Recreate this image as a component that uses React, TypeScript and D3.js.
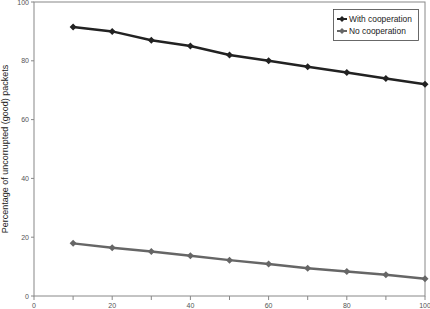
import React from "react";
import * as d3 from "d3";

const xValues = [10, 20, 30, 40, 50, 60, 70, 80, 90, 100];
const withCoop = [91.5, 90, 87, 85, 82, 80, 78, 76, 74, 72];
const noCoop = [17.9, 16.4, 15.1, 13.7, 12.2, 10.9, 9.4, 8.3, 7.2, 5.9];
const xTicks = [0, 20, 40, 60, 80, 100];
const xMinor = [10, 30, 50, 70, 90];
const yTicks = [0, 20, 40, 60, 80, 100];
const seriesNames = ["With cooperation", "No cooperation"];

export default function App() {
  const W = 430, H = 309;
  const x = d3.scaleLinear().domain([0, 100]).range([34, 425]);
  const y = d3.scaleLinear().domain([0, 100]).range([296, 2]);
  const line = d3.line<number>().x((_, i) => x(xValues[i])).y((d) => y(d));
  const series = [
    { name: seriesNames[0], data: withCoop, color: "#222", width: 2.5 },
    { name: seriesNames[1], data: noCoop, color: "#666", width: 2.5 },
  ];
  const diamond = (cx: number, cy: number, r: number) =>
    `M${cx},${cy - r}L${cx + r},${cy}L${cx},${cy + r}L${cx - r},${cy}Z`;
  const font = "Liberation Sans, Arial, sans-serif";
  return (
    <svg width={W} height={H} style={{ position: "absolute", left: 0, top: 0, background: "#fff" }}>
      <rect x={x(0)} y={y(100)} width={x(100) - x(0)} height={y(0) - y(100)} fill="none" stroke="#888" strokeWidth={1} />
      {yTicks.map((t) => (
        <g key={"y" + t}>
          <line x1={x(0) - 3} x2={x(0)} y1={y(t)} y2={y(t)} stroke="#888" />
          <text x={x(0) - 5} y={y(t) + 2.5} fontSize={7} textAnchor="end" fill="#555" fontFamily={font}>{t}</text>
        </g>
      ))}
      {xTicks.map((t) => (
        <g key={"x" + t}>
          <line x1={x(t)} x2={x(t)} y1={y(0)} y2={y(0) + 4} stroke="#888" />
          <text x={x(t)} y={y(0) + 12} fontSize={7} textAnchor="middle" fill="#555" fontFamily={font}>{t}</text>
        </g>
      ))}
      {xMinor.map((t) => (
        <line key={"m" + t} x1={x(t)} x2={x(t)} y1={y(0)} y2={y(0) + 4} stroke="#888" />
      ))}
      <text transform={`translate(8,${(y(0) + y(100)) / 2}) rotate(-90)`} fontSize={9} textAnchor="middle" fill="#222" fontFamily={font}>
        Percentage of uncorrupted (good) packets
      </text>
      {series.map((s) => (
        <g key={s.name}>
          <path d={line(s.data) || ""} fill="none" stroke={s.color} strokeWidth={s.width} />
          {s.data.map((v, i) => (
            <path key={i} d={diamond(x(xValues[i]), y(v), 3.5)} fill={s.color} />
          ))}
        </g>
      ))}
      <rect x={333.5} y={9.5} width={85} height={31} fill="#fff" stroke="#444" strokeWidth={0.8} />
      {series.map((s, i) => (
        <g key={"l" + i}>
          <line x1={337} x2={347} y1={19 + i * 12} y2={19 + i * 12} stroke={s.color} strokeWidth={2} />
          <path d={diamond(342, 19 + i * 12, 3)} fill={s.color} />
          <text x={349} y={22 + i * 12} fontSize={8.4} fill="#222" fontFamily={font}>{s.name}</text>
        </g>
      ))}
    </svg>
  );
}
